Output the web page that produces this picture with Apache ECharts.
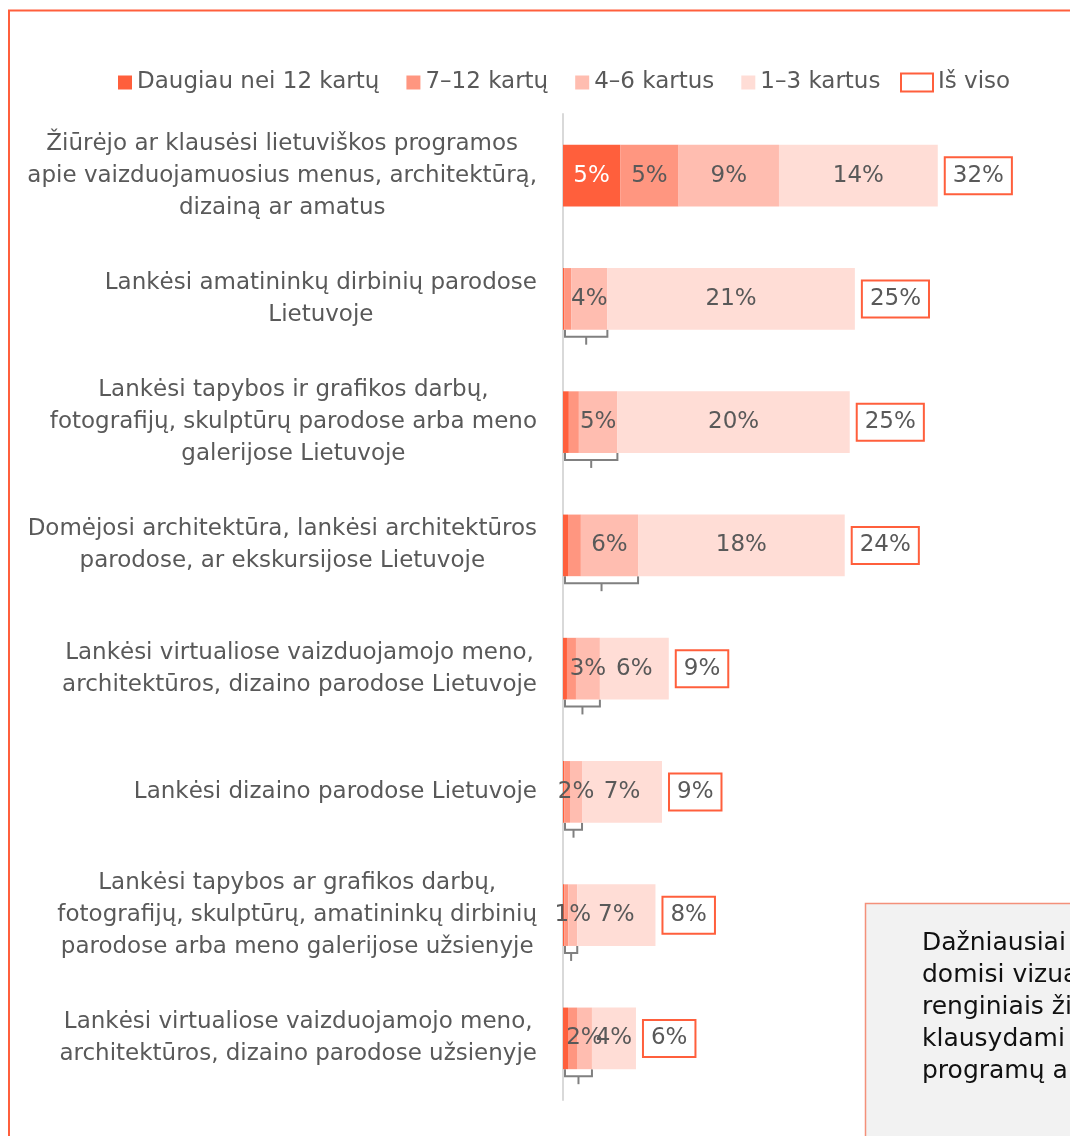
<!DOCTYPE html>
<html>
<head>
<meta charset="utf-8">
<script src="https://cdn.jsdelivr.net/npm/echarts@6/dist/echarts.min.js"></script>
<style>
  html, body { margin: 0; padding: 0; background: #fff; }
  #chart { width: 1070px; height: 1136px; }
</style>
</head>
<body>
<div id="chart"></div>
<script>
const categories = [
  'Žiūrėjo ar klausėsi lietuviškos programos\napie vaizduojamuosius menus, architektūrą,\ndizainą ar amatus',
  'Lankėsi amatininkų dirbinių parodose\nLietuvoje',
  'Lankėsi tapybos ir grafikos darbų,\nfotografijų, skulptūrų parodose arba meno\ngalerijose Lietuvoje',
  'Domėjosi architektūra, lankėsi architektūros\nparodose, ar ekskursijose Lietuvoje',
  'Lankėsi virtualiose vaizduojamojo meno,\narchitektūros, dizaino parodose Lietuvoje',
  'Lankėsi dizaino parodose Lietuvoje',
  'Lankėsi tapybos ar grafikos darbų,\nfotografijų, skulptūrų, amatininkų dirbinių\nparodose arba meno galerijose užsienyje',
  'Lankėsi virtualiose vaizduojamojo meno,\narchitektūros, dizaino parodose užsienyje'
];
const seriesNames = ['Daugiau nei 12 kartų', '7–12 kartų', '4–6 kartus', '1–3 kartus'];
const totalName = 'Iš viso';

// segment values (%)
const over12 = [4.9, 0.1, 0.5, 0.43, 0.34, 0.1, 0.1, 0.43];
const from7to12 = [5.0, 0.6, 0.86, 1.1, 0.77, 0.5, 0.35, 0.77];
const from4to6 = [8.6, 3.1, 3.3, 4.9, 2.05, 1.03, 0.77, 1.28];
const from1to3 = [13.6, 21.2, 19.9, 17.7, 5.9, 6.85, 6.7, 3.77];

// printed labels
const over12Labels = ['5%', '', '', '', '', '', '', ''];
const from7to12Labels = ['5%', '', '', '', '', '', '', ''];
const groupLabels = ['9%', '4%', '5%', '6%', '3%', '2%', '1%', '2%'];
const from1to3Labels = ['14%', '21%', '20%', '18%', '6%', '7%', '7%', '4%'];
const totalLabels = ['32%', '25%', '25%', '24%', '9%', '9%', '8%', '6%'];
const braced = [0, 1, 1, 1, 1, 1, 1, 1];

const FONT = "'DejaVu Sans', Verdana, sans-serif";
const FS = 23;
const colors = ['#FF5F3C', '#FF9680', '#FFBDB0', '#FFDDD6'];
const textGray = '#595959';

const chart = echarts.init(document.getElementById('chart'));

function barSeries(idx, values, labels, labelColor) {
  return {
    name: seriesNames[idx],
    type: 'bar',
    stack: 'all',
    barWidth: '50%',
    itemStyle: { color: colors[idx] },
    label: {
      show: true,
      position: 'inside',
      color: labelColor || textGray,
      fontSize: FS,
      fontFamily: FONT,
      formatter: p => labels[p.dataIndex]
    },
    emphasis: { disabled: true },
    data: values
  };
}

const totalData = categories.map((c, i) => [over12[i] + from7to12[i] + from4to6[i] + from1to3[i], i]);
const braceData = categories.map((c, i) => [over12[i] + from7to12[i] + from4to6[i], i]);

const option = {
  animation: false,
  backgroundColor: '#fff',
  legend: [
    {
      left: 113,
      top: 66,
      itemWidth: 14,
      itemHeight: 14,
      itemGap: 27,
      icon: 'rect',
      textStyle: { color: textGray, fontSize: FS, fontFamily: FONT },
      data: seriesNames
    },
    {
      left: 895,
      top: 66,
      itemWidth: 32,
      itemHeight: 18,
      textStyle: { color: textGray, fontSize: FS, fontFamily: FONT },
      data: [{
        name: totalName,
        icon: 'rect',
        itemStyle: { color: '#fff', borderColor: '#FF5F3C', borderWidth: 2 }
      }]
    }
  ],
  grid: { left: 563, right: 40, top: 114, bottom: 36 },
  xAxis: {
    type: 'value',
    min: 0,
    max: 40,
    show: false
  },
  yAxis: {
    type: 'category',
    inverse: true,
    data: categories,
    axisLine: { show: true, lineStyle: { color: '#D9D9D9', width: 2 } },
    axisTick: { show: false },
    axisLabel: {
      margin: 26,
      formatter: v => v.split('\n').map(l => '{c|' + l + '}').join('\n'),
      rich: {
        c: { align: 'center', fontSize: FS, lineHeight: 32, color: textGray, fontFamily: FONT }
      }
    }
  },
  series: [
    barSeries(0, over12, over12Labels, '#fff'),
    barSeries(1, from7to12, from7to12Labels),
    barSeries(2, from4to6, groupLabels),
    barSeries(3, from1to3, from1to3Labels),
    {
      name: totalName,
      type: 'custom',
      itemStyle: { color: '#fff', borderColor: '#FF5F3C' },
      renderItem: (params, api) => {
        const i = params.dataIndex;
        const p = api.coord([api.value(0), api.value(1)]);
        return {
          type: 'text',
          x: p[0] + 8,
          y: p[1],
          style: {
            text: totalLabels[i],
            fill: textGray,
            fontSize: FS,
            fontFamily: FONT,
            align: 'left',
            verticalAlign: 'middle',
            padding: [7, 7, 5, 7],
            backgroundColor: '#fff',
            borderColor: '#FF5F3C',
            borderWidth: 2
          }
        };
      },
      data: totalData
    },
    {
      name: 'brace',
      type: 'custom',
      silent: true,
      renderItem: (params, api) => {
        const i = params.dataIndex;
        if (!braced[i]) return null;
        const p0 = api.coord([0, api.value(1)]);
        const p1 = api.coord([api.value(0), api.value(1)]);
        const half = api.size([0, 1])[1] * 0.25;
        const x0 = p0[0] + 2;
        const x1 = p1[0];
        const yb = p0[1] + half;
        const xm = (x0 + x1) / 2;
        const st = { stroke: '#808080', lineWidth: 2, fill: null };
        return {
          type: 'group',
          children: [
            { type: 'polyline', shape: { points: [[x0, yb], [x0, yb + 7], [x1, yb + 7], [x1, yb]] }, style: st },
            { type: 'line', shape: { x1: xm, y1: yb + 7, x2: xm, y2: yb + 15 }, style: st }
          ]
        };
      },
      data: braceData
    }
  ],
  graphic: [
    {
      type: 'rect',
      shape: { x: 9, y: 10.5, width: 1200, height: 1300 },
      style: { fill: null, stroke: '#FF5F3C', lineWidth: 2 },
      silent: true
    },
    {
      type: 'rect',
      shape: { x: 865.5, y: 903.5, width: 400, height: 400 },
      style: { fill: '#F2F2F2', stroke: '#F4907A', lineWidth: 1.5 },
      z: 10,
      silent: true
    },
    {
      type: 'text',
      x: 922,
      y: 927,
      z: 11,
      silent: true,
      style: {
        text: 'Dažniausiai respondentai\ndomisi vizualiųjų menų\nrenginiais žiūrėdami ar\nklausydami lietuviškų\nprogramų apie juos',
        fill: '#111',
        fontSize: 25,
        lineHeight: 32,
        fontFamily: FONT,
        align: 'left',
        verticalAlign: 'top'
      }
    }
  ]
};

chart.setOption(option);
</script>
</body>
</html>
